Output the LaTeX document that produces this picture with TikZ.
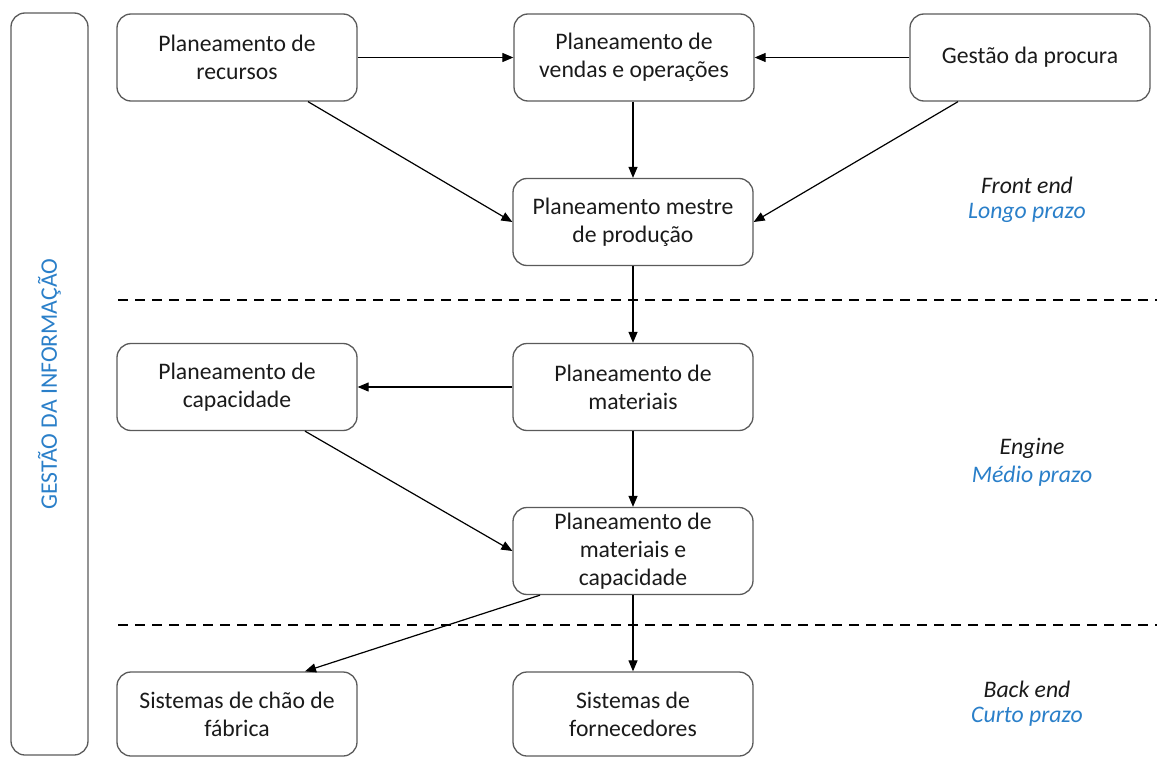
\documentclass[tikz,border=0pt]{standalone}
\usepackage{fontspec}
\setmainfont{Carlito}
\usetikzlibrary{arrows.meta}
\definecolor{blu}{HTML}{2A7FC9}
\definecolor{edge}{HTML}{5A5A5A}
\definecolor{txt}{HTML}{1A1A1A}
\begin{document}
\begin{tikzpicture}[x=1pt,y=-1pt,
 box/.style={draw=edge, line width=1.3pt, rounded corners=14pt, minimum width=240pt, minimum height=87pt, align=center, font=\fontsize{23.7}{28}\selectfont, text=txt, inner sep=0pt},
 arr/.style={-{Triangle[length=11pt,width=9pt]}, line width=1.2pt},
 dline/.style={dash pattern=on 10pt off 7pt, line width=1.8pt},
 lab/.style={font=\fontsize{23.7}{28}\selectfont\itshape, text=txt},
 labb/.style={font=\fontsize{23.7}{28}\selectfont\itshape, text=blu}]
\useasboundingbox (0,0) rectangle (1157,757);
\node[box, rotate=90, minimum width=742pt, minimum height=77pt, text=blu] (info) at (49.5,384) {GESTÃO DA INFORMAÇÃO};
\node[box] (rec) at (237,57.5) {Planeamento de\\recursos};
\node[box] (vend) at (634,57.5) {Planeamento de\\vendas e operações};
\node[box] (proc) at (1030,57.5) {Gestão da procura};
\node[box] (mest) at (633,222) {Planeamento mestre\\de produção};
\node[box] (cap) at (237,387) {Planeamento de\\capacidade};
\node[box] (mat) at (633,387) {Planeamento de\\materiais};
\node[box] (mc) at (633,551) {Planeamento de\\materiais e\\capacidade};
\node[box, minimum height=84pt] (chao) at (237,714) {Sistemas de chão de\\fábrica};
\node[box, minimum height=84pt] (forn) at (633,714) {Sistemas de\\fornecedores};
\draw[arr] (rec.east) -- (vend.west);
\draw[arr] (proc.west) -- (vend.east);
\draw[arr] (mest.north |- vend.south) -- (mest.north);
\draw[arr] ([xshift=71pt]rec.south) -- (mest.west);
\draw[arr] ([xshift=-72pt]proc.south) -- (mest.east);
\draw[arr] (mest.south) -- (mat.north);
\draw[arr] (mat.west) -- (cap.east);
\draw[arr] (mat.south) -- (mc.north);
\draw[arr] ([xshift=68pt]cap.south) -- (mc.west);
\draw[arr] ([xshift=-93pt]mc.south) -- ([xshift=68pt]chao.north);
\draw[arr] (mc.south) -- (forn.north);
\coordinate (d1s) at (118,300); \coordinate (d1e) at (1157,300);
\coordinate (d2s) at (118,625); \coordinate (d2e) at (1157,625);
\draw[dline] (d1s) -- (d1e);
\draw[dline] (d2s) -- (d2e);
\node[lab] (fe) at (1027,185) {Front end};
\node[labb] (lp) at (1027,213) {Longo prazo};
\node[lab] (en) at (1032,448) {Engine};
\node[labb] (mp) at (1032,476) {Médio prazo};
\node[lab] (be) at (1027,689) {Back end};
\node[labb] (cp) at (1027,717) {Curto prazo};
\end{tikzpicture}
\end{document}
